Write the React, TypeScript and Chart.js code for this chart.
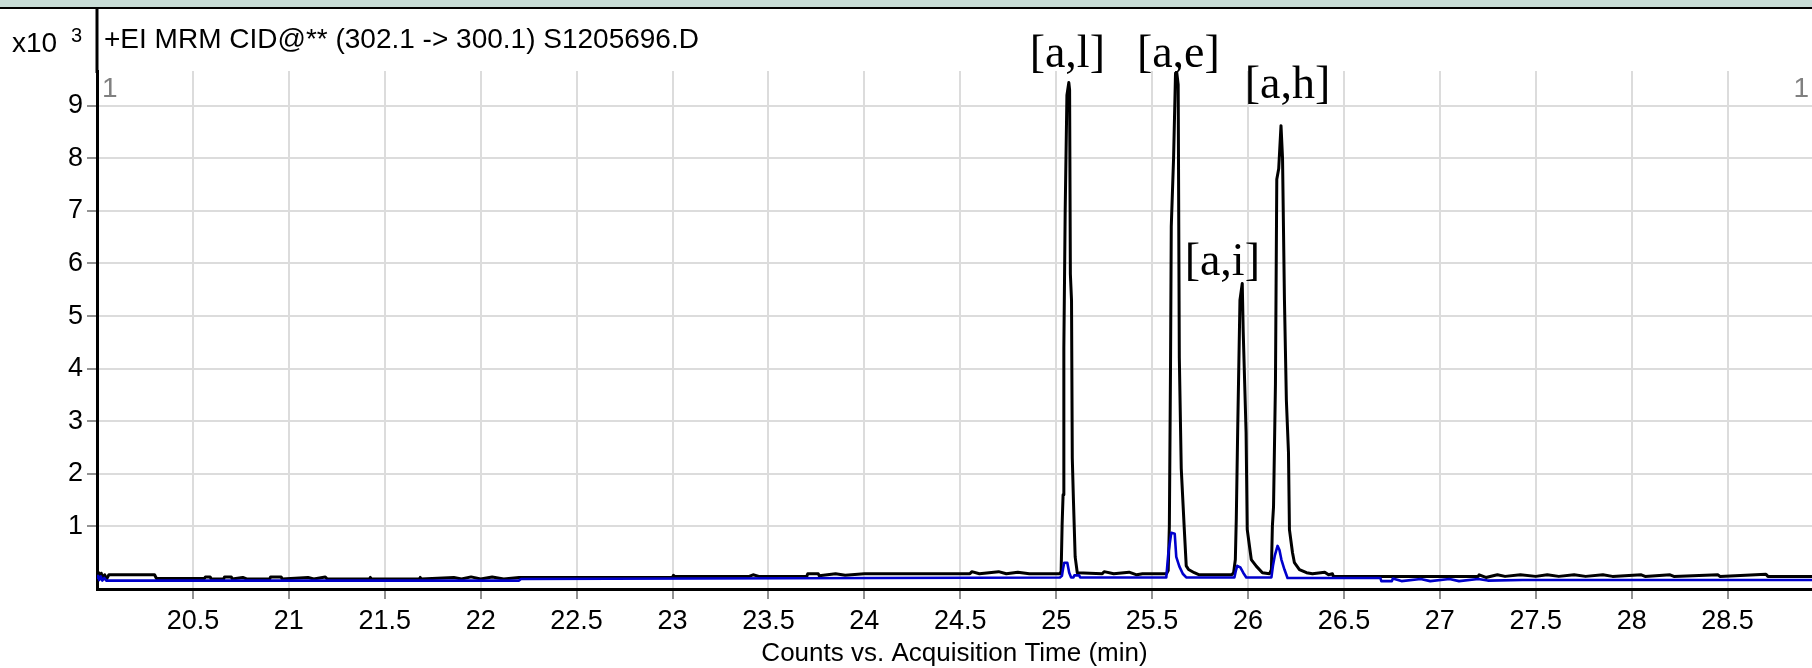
import React, { useEffect, useRef } from "react";
import { Chart, registerables } from "chart.js";

Chart.register(...registerables);

// ---- data (counts in thousands, time in minutes) ----
const blackTimes = [
  20.0, 20.008, 20.015, 20.022, 20.03, 20.04, 20.05, 20.062, 20.3, 20.31,
  20.56, 20.565, 20.59, 20.595, 20.66, 20.665, 20.7, 20.705, 20.76, 20.78,
  20.9, 20.905, 20.96, 20.965, 21.1, 21.13, 21.19, 21.2, 21.42, 21.425,
  21.43, 21.68, 21.685, 21.69, 21.86, 21.9, 21.95, 22.0, 22.06, 22.12,
  22.2, 23.0, 23.005, 23.01, 23.4, 23.42, 23.45, 23.7, 23.705, 23.76,
  23.765, 23.85, 23.9, 24.0, 24.55, 24.56, 24.6, 24.7, 24.74, 24.8,
  24.86,
  25.02, 25.026, 25.031, 25.036, 25.04, 25.047, 25.056, 25.066, 25.07, 25.074,
  25.08, 25.084, 25.09, 25.099, 25.11, 25.24, 25.25, 25.3, 25.38, 25.42,
  25.45,
  25.575, 25.584, 25.59, 25.596, 25.6, 25.612, 25.622, 25.628, 25.636, 25.642,
  25.652, 25.668, 25.678, 25.69, 25.72, 25.746,
  25.915, 25.925, 25.934, 25.939, 25.946, 25.958, 25.97, 25.975, 25.99, 25.996,
  26.017, 26.044, 26.075,
  26.112, 26.122, 26.127, 26.133, 26.143, 26.15, 26.16, 26.172, 26.18, 26.19,
  26.195, 26.2, 26.211, 26.216, 26.232, 26.242, 26.268, 26.305, 26.336, 26.4,
  26.42, 26.44, 26.445,
  27.2, 27.205, 27.24, 27.3, 27.34, 27.42, 27.5, 27.56, 27.62, 27.7,
  27.76, 27.85, 27.9, 28.05, 28.07, 28.2, 28.22, 28.45, 28.46, 28.7,
  28.71, 28.94,
];
const blackCounts = [
  0.06, 0.12, 0.05, 0.11, 0.03, 0.08, 0.0, 0.08, 0.08, 0.01,
  0.01, 0.04, 0.04, 0.0, 0.0, 0.04, 0.04, 0.0, 0.03, 0.0,
  0.0, 0.04, 0.04, 0.0, 0.03, 0.0, 0.04, 0.0, 0.0, 0.03,
  0.0, 0.0, 0.03, 0.0, 0.03, 0.0, 0.04, 0.0, 0.04, 0.0,
  0.03, 0.03, 0.07, 0.05, 0.05, 0.08, 0.05, 0.05, 0.1, 0.1,
  0.06, 0.1, 0.07, 0.1, 0.1, 0.14, 0.1, 0.14, 0.1, 0.13,
  0.1,
  0.1, 0.15, 1.03, 1.6, 4.4, 7.0, 9.2, 9.44, 9.3, 5.8,
  5.3, 2.3, 1.5, 0.42, 0.12, 0.1, 0.14, 0.1, 0.13, 0.08,
  0.1,
  0.1, 0.16, 1.0, 4.0, 6.7, 8.0, 9.6, 9.65, 9.4, 4.2,
  2.1, 0.94, 0.25, 0.18, 0.12, 0.08,
  0.08, 0.12, 0.37, 1.16, 2.78, 5.3, 5.62, 4.7, 2.78, 0.94,
  0.37, 0.24, 0.12,
  0.1, 0.18, 1.0, 1.37, 3.7, 7.6, 7.8, 8.62, 8.0, 5.3,
  4.35, 3.4, 2.4, 0.94, 0.5, 0.31, 0.18, 0.12, 0.1, 0.13,
  0.08, 0.1, 0.05,
  0.05, 0.08, 0.03, 0.08, 0.05, 0.08, 0.05, 0.08, 0.05, 0.08,
  0.05, 0.08, 0.05, 0.08, 0.05, 0.08, 0.05, 0.08, 0.05, 0.09,
  0.05, 0.05,
];

const blueTimes = [
  20.0, 20.006, 20.012, 20.02, 20.028, 20.038, 20.048, 22.2, 22.21,
  25.02, 25.03, 25.036, 25.042, 25.058, 25.068, 25.078, 25.09, 25.095, 25.12, 25.125,
  25.574, 25.585, 25.6, 25.618, 25.626, 25.642, 25.66, 25.678,
  25.929, 25.936, 25.944, 25.96, 25.975, 25.991,
  26.122, 26.13, 26.14, 26.154, 26.164, 26.174, 26.19, 26.206,
  26.69, 26.695, 26.75, 26.755, 26.8, 26.9, 26.95, 27.05, 27.1, 27.2,
  27.25, 27.43, 28.94,
];
const blueCounts = [
  0.0, 0.06, -0.02, 0.05, -0.03, 0.02, -0.03, -0.03, 0.0,
  0.03, 0.06, 0.2, 0.31, 0.31, 0.12, 0.03, 0.03, 0.07, 0.07, 0.03,
  0.03, 0.5, 0.88, 0.86, 0.42, 0.24, 0.1, 0.03,
  0.03, 0.15, 0.25, 0.22, 0.12, 0.03,
  0.03, 0.25, 0.45, 0.63, 0.55, 0.37, 0.18, 0.02,
  0.02, -0.04, -0.04, 0.01, -0.04, 0.0, -0.04, 0.0, -0.04, 0.0,
  -0.03, -0.02, -0.02,
];

const xTicks = [20.5, 21, 21.5, 22, 22.5, 23, 23.5, 24, 24.5, 25, 25.5, 26, 26.5, 27, 27.5, 28, 28.5];
const yTicks = [1, 2, 3, 4, 5, 6, 7, 8, 9];

const peakLabels = ["[a,l]", "[a,e]", "[a,i]", "[a,h]"];
const peakLabelTimes = [25.058, 25.637, 25.866, 26.206];
const peakLabelCounts = [9.74, 9.74, 5.79, 9.15];

const titleText = "+EI MRM CID@** (302.1 -> 300.1) S1205696.D";
const xAxisTitle = "Counts vs. Acquisition Time (min)";

const SANS = "'Liberation Sans', Arial, sans-serif";
const SERIF = "'Liberation Serif', 'Times New Roman', serif";

const decorPlugin = {
  id: "decor",
  afterDraw(chart: any) {
    const { ctx, chartArea, scales } = chart;
    const W = chart.width;
    ctx.save();
    // top band
    ctx.fillStyle = "#c8dcd6";
    ctx.fillRect(0, 0, W, 7);
    ctx.strokeStyle = "#000";
    ctx.lineWidth = 2;
    ctx.beginPath();
    ctx.moveTo(0, 8);
    ctx.lineTo(W, 8);
    ctx.stroke();
    // left frame line up to top
    ctx.lineWidth = 3;
    ctx.beginPath();
    ctx.moveTo(chartArea.left, 8);
    ctx.lineTo(chartArea.left, chartArea.top + 2);
    ctx.stroke();

    // x10^3
    ctx.fillStyle = "#000";
    ctx.textAlign = "left";
    ctx.textBaseline = "alphabetic";
    ctx.font = `28px ${SANS}`;
    ctx.fillText("x10", 12, 52);
    ctx.font = `20px ${SANS}`;
    ctx.fillText("3", 71, 42);

    // title
    ctx.font = `28px ${SANS}`;
    ctx.textBaseline = "middle";
    ctx.fillText(titleText, 104, 40);

    // grey "1" markers
    ctx.fillStyle = "#808080";
    ctx.font = `28px ${SANS}`;
    ctx.textBaseline = "top";
    ctx.textAlign = "left";
    ctx.fillText("1", chartArea.left + 5, chartArea.top + 4);
    ctx.textAlign = "right";
    ctx.fillText("1", chartArea.right - 3, chartArea.top + 4);

    // peak labels
    ctx.fillStyle = "#000";
    ctx.font = `46px ${SERIF}`;
    ctx.textAlign = "center";
    ctx.textBaseline = "alphabetic";
    peakLabels.forEach((lab, i) => {
      const x = scales.x.getPixelForValue(peakLabelTimes[i]);
      const y = scales.y.getPixelForValue(peakLabelCounts[i]);
      ctx.fillText(lab, x, y);
    });
    ctx.restore();
  },
};

export default function App() {
  const ref = useRef<HTMLCanvasElement | null>(null);

  useEffect(() => {
    if (!ref.current) return;
    const black = blackTimes.map((t, i) => ({ x: t, y: blackCounts[i] }));
    const blue = blueTimes.map((t, i) => ({ x: t, y: blueCounts[i] }));
    const chart = new Chart(ref.current, {
      type: "line",
      data: {
        datasets: [
          {
            label: "qualifier",
            data: blue,
            borderColor: "#0000cc",
            borderWidth: 2.6,
            borderJoinStyle: "round",
            pointRadius: 0,
            tension: 0,
            fill: false,
          },
          {
            label: "quantifier",
            data: black,
            borderColor: "#000000",
            borderWidth: 3,
            borderJoinStyle: "round",
            pointRadius: 0,
            tension: 0,
            fill: false,
          },
        ],
      },
      options: {
        animation: false,
        responsive: false,
        maintainAspectRatio: false,
        layout: { padding: { top: 71, left: 0, right: 0, bottom: 0 } },
        plugins: { legend: { display: false }, tooltip: { enabled: false }, title: { display: false } },
        scales: {
          x: {
            type: "linear",
            min: 20.0,
            max: 28.94,
            afterBuildTicks: (s: any) => {
              s.ticks = xTicks.map((v) => ({ value: v }));
            },
            afterFit: (s: any) => {
              s.height = 79;
            },
            grid: {
              color: "#dcdcdc",
              lineWidth: 2,
              drawTicks: true,
              tickLength: 10,
              tickColor: "#6e6e6e",
              tickWidth: 1.5,
            },
            border: { display: true, color: "#000", width: 3 },
            ticks: {
              autoSkip: false,
              maxRotation: 0,
              color: "#000",
              padding: 6,
              font: { family: SANS, size: 27 },
              callback: (v: any) => String(v),
            },
            title: {
              display: true,
              text: xAxisTitle,
              color: "#000",
              font: { family: SANS, size: 26, lineHeight: 1.1 },
              padding: { top: 0, bottom: 0 },
            },
          },
          y: {
            type: "linear",
            min: -0.19,
            max: 9.66,
            afterBuildTicks: (s: any) => {
              s.ticks = yTicks.map((v) => ({ value: v }));
            },
            afterFit: (s: any) => {
              s.width = 97;
            },
            grid: {
              color: "#dcdcdc",
              lineWidth: 2,
              drawTicks: true,
              tickLength: 10,
              tickColor: "#6e6e6e",
              tickWidth: 1.5,
            },
            border: { display: true, color: "#000", width: 3 },
            ticks: {
              color: "#000",
              padding: 4,
              font: { family: SANS, size: 27 },
              callback: (v: any) => String(v),
            },
          },
        },
      },
      plugins: [decorPlugin],
    });
    return () => chart.destroy();
  }, []);

  return (
    <div style={{ position: "fixed", left: 0, top: 0, width: 1812, height: 668, background: "#fff" }}>
      <canvas ref={ref} width={1812} height={668} style={{ display: "block" }} />
    </div>
  );
}
